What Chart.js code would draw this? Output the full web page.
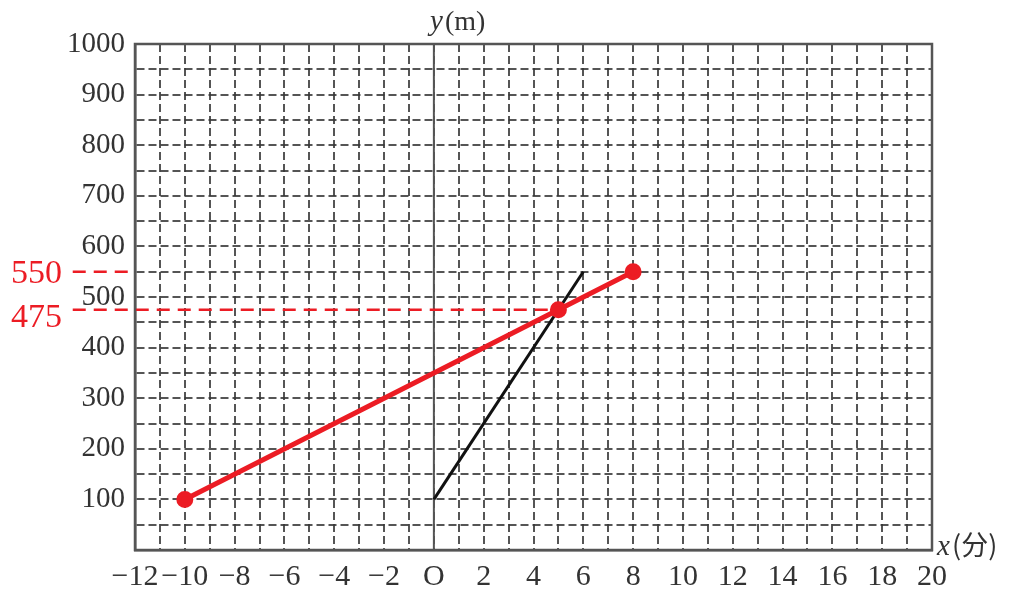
<!DOCTYPE html>
<html><head><meta charset="utf-8">
<script src="https://cdn.jsdelivr.net/npm/chart.js@4/dist/chart.umd.min.js"></script>
<style>html,body{margin:0;padding:0;background:#fff}#wrap{width:1020px;height:592px}</style>
</head><body><div id="wrap"><canvas id="c" width="1020" height="592"></canvas></div>
<script>
const xMin = -12, xMax = 20, yMin = 0, yMax = 1000;
const redX = [-10, 5, 8];
const redY = [100, 475, 550];
const blackX = [0, 6];
const blackY = [100, 550];
const refValues = [550, 475];
const refEndX = [-12, 5];
const refStartX = -14.5;
const xLabelEvery = 2;
const yLabelEvery = 100;

const RED = '#ec1c24';
const GRID = 'rgba(55,55,55,0.85)';
const SERIF = '"Liberation Serif","DejaVu Serif",serif';

const pts = (xs, ys) => xs.map((x, i) => ({x, y: ys[i]}));

const refDatasets = refValues.map((v, i) => ({
  data: [{x: refStartX, y: v}, {x: refEndX[i], y: v}],
  showLine: true, borderColor: RED, borderWidth: 2.5, borderDash: [13, 8],
  pointRadius: 0, clip: false, order: 1
}));

const labelsPlugin = {
  id: 'labels',
  afterDraw(chart) {
    const {ctx, scales: {x, y}, chartArea} = chart;
    ctx.save();
    ctx.fillStyle = RED;
    ctx.font = '34px "Liberation Serif", serif';
    ctx.textAlign = 'left';
    ctx.textBaseline = 'middle';
    const ly1 = y.getPixelForValue(refValues[0]) + 2;
    const ly2 = y.getPixelForValue(refValues[1]) + 8;
    ctx.fillText(String(refValues[0]), 11, ly1);
    ctx.fillText(String(refValues[1]), 11, ly2);
    ctx.fillStyle = '#333';
    ctx.font = 'italic 29px ' + SERIF;
    ctx.textBaseline = 'alphabetic';
    const x0 = x.getPixelForValue(0);
    ctx.fillText('y', x0 - 4, 30);
    ctx.font = '28px ' + SERIF;
    ctx.fillText('(m)', x0 + 11, 30);
    ctx.font = 'italic 29px ' + SERIF;
    ctx.fillText('x', chartArea.right + 5, chartArea.bottom + 5);
    ctx.font = '27px "Noto Sans CJK SC", ' + SERIF;
    ctx.fillText('(分)', chartArea.right + 20, chartArea.bottom + 5);
    ctx.restore();
  }
};

new Chart(document.getElementById('c'), {
  type: 'scatter',
  data: {
    datasets: [
      {data: pts(redX, redY), showLine: true, borderColor: RED, backgroundColor: RED,
       borderWidth: 5, pointRadius: 6, pointHoverRadius: 6, order: 0},
      {data: pts(blackX, blackY), showLine: true, borderColor: '#111', borderWidth: 3,
       pointRadius: 0, order: 2},
      {data: [{x: 0, y: yMin}, {x: 0, y: yMax}], showLine: true, borderColor: '#555',
       borderWidth: 2, pointRadius: 0, order: 3},
      ...refDatasets
    ]
  },
  options: {
    responsive: false, animation: false,
    layout: {padding: {left: 0, right: 88, top: 44, bottom: 0}},
    plugins: {legend: {display: false}, tooltip: {enabled: false}},
    scales: {
      x: {
        type: 'linear', min: xMin, max: xMax,
        afterFit(s) { s.height = 42; },
        border: {display: true, color: '#555', width: 2.5, dash: [8, 4]},
        grid: {color: GRID, lineWidth: 2, drawTicks: false},
        ticks: {
          stepSize: 1, autoSkip: false, maxRotation: 0, padding: 9,
          color: '#333', font: {family: SERIF, size: 30},
          callback: v => v === 0 ? 'O' : (v % xLabelEvery === 0 ? String(v).replace('-', '−') : '')
        }
      },
      y: {
        type: 'linear', min: yMin, max: yMax,
        afterFit(s) { s.width = 135; },
        border: {display: true, color: '#555', width: 2.5, dash: [8, 4]},
        grid: {color: GRID, lineWidth: 2, drawTicks: false},
        ticks: {
          stepSize: 50, autoSkip: false, padding: 10,
          color: '#333', font: {family: SERIF, size: 29},
          callback: v => (v !== 0 && v % yLabelEvery === 0) ? String(v) : ''
        }
      }
    }
  },
  plugins: [labelsPlugin, {
    id: 'frame',
    afterDatasetsDraw(chart) {
      const {ctx, chartArea: a} = chart;
      ctx.save();
      ctx.strokeStyle = '#555'; ctx.lineWidth = 2.5;
      ctx.strokeRect(a.left, a.top, a.right - a.left, a.bottom - a.top);
      ctx.restore();
    }
  }]
});
</script></body></html>
